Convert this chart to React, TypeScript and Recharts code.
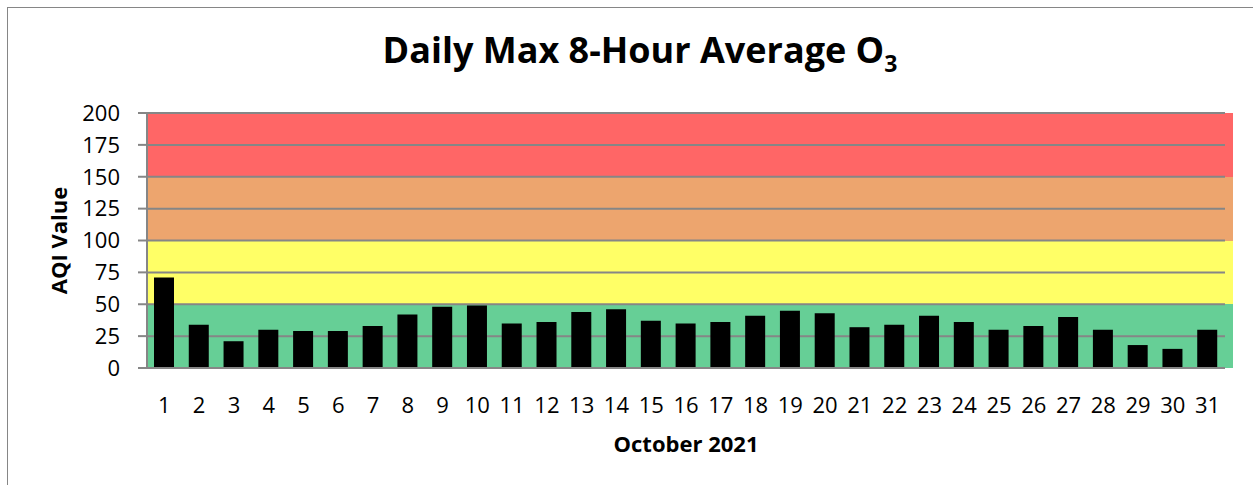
import { BarChart, Bar, XAxis, YAxis, CartesianGrid } from 'recharts'

// October 2021, daily max 8-hour average O3 (AQI)
const days = [
  '1', '2', '3', '4', '5', '6', '7', '8', '9', '10', '11', '12', '13', '14', '15', '16',
  '17', '18', '19', '20', '21', '22', '23', '24', '25', '26', '27', '28', '29', '30', '31',
]
const aqiValues = [
  71, 34, 21, 30, 29, 29, 33, 42, 48, 49, 35, 36, 44, 46, 37, 35,
  36, 41, 45, 43, 32, 34, 41, 36, 30, 33, 40, 30, 18, 15, 30,
]
const yTicks = [0, 25, 50, 75, 100, 125, 150, 175, 200]

// AQI category fills, top stripe first (175-200 ... 0-25)
const stripeColors = ['#FF6666', '#FF6666', '#EDA56E', '#EDA56E', '#FFFF66', '#FFFF66', '#66CF96', '#66CF96']

const data = days.map((day, i) => ({ day, aqi: aqiValues[i] }))

const FONT = '"Open Sans", sans-serif'
const GRAY = '#868686'

export default function App() {
  return (
    <div style={{ position: 'relative', width: 1253, height: 485, overflow: 'hidden', background: '#fff', fontFamily: FONT }}>
      <style>{'body{margin:0;overflow:hidden}'}</style>
      <div
        style={{
          position: 'absolute',
          left: 7,
          top: 7,
          width: 1300,
          height: 520,
          border: `1px solid ${GRAY}`,
        }}
      />
      <div
        style={{
          position: 'absolute',
          left: 0,
          top: 28,
          width: 1280,
          textAlign: 'center',
          fontSize: 36,
          fontWeight: 700,
          lineHeight: '44px',
          color: '#000',
        }}
      >
        Daily Max 8-Hour Average O
        <span style={{ fontSize: 23, position: 'relative', top: 9 }}>3</span>
      </div>
      <BarChart
        width={1253}
        height={485}
        data={data}
        margin={{ top: 113, right: 28, left: 0, bottom: 37 }}
        style={{ position: 'absolute', left: 0, top: 0 }}
      >
        {/* colour bands run a little past the right end of the grid lines */}
        <CartesianGrid
          vertical={false}
          stroke="none"
          width={1086}
          horizontalFill={stripeColors}
          fillOpacity={1}
        />
        <CartesianGrid vertical={false} stroke={GRAY} strokeWidth={2} />
        <XAxis
          dataKey="day"
          interval={0}
          tickLine={false}
          tickSize={0}
          tickMargin={29}
          height={80}
          axisLine={{ stroke: GRAY, strokeWidth: 2 }}
          tick={{ fill: '#000', fontSize: 22, fontFamily: FONT }}
          label={({ viewBox }: any) => (
            <text
              x={viewBox.x + viewBox.width / 2}
              y={viewBox.y + 84}
              textAnchor="middle"
              fontSize={22}
              fontWeight={700}
              fontFamily={FONT}
              fill="#000"
            >
              October 2021
            </text>
          )}
        />
        <YAxis
          domain={[0, 200]}
          ticks={yTicks}
          interval={0}
          width={147}
          tickSize={9}
          tickMargin={18}
          axisLine={{ stroke: GRAY, strokeWidth: 2 }}
          tickLine={{ stroke: GRAY, strokeWidth: 2 }}
          tick={{ fill: '#000', fontSize: 22, fontFamily: FONT }}
          label={({ viewBox }: any) => {
            const cy = viewBox.y + viewBox.height / 2
            return (
              <text
                x={67}
                y={cy}
                transform={`rotate(-90, 67, ${cy})`}
                textAnchor="middle"
                fontSize={22}
                fontWeight={700}
                fontFamily={FONT}
                fill="#000"
              >
                AQI Value
              </text>
            )
          }}
        />
        <Bar dataKey="aqi" fill="#000" barSize={20} isAnimationActive={false} />
      </BarChart>
    </div>
  )
}
